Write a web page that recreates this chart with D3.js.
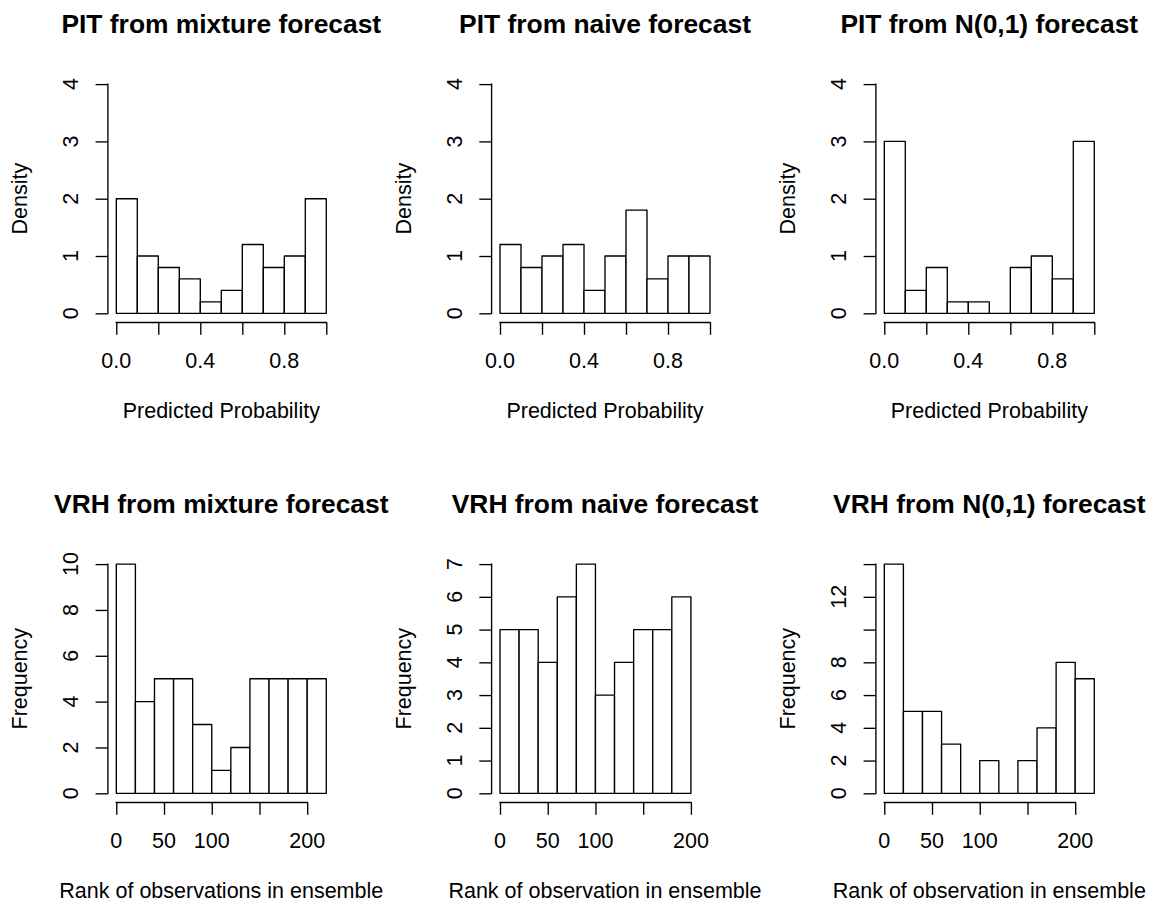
<!DOCTYPE html>
<html>
<head>
<meta charset="utf-8">
<script src="https://cdn.jsdelivr.net/npm/d3@7"></script>
<style>
  html, body { margin: 0; padding: 0; background: #fff; }
  svg text { font-family: "Liberation Sans", Arial, Helvetica, sans-serif; fill: #000; }
</style>
</head>
<body>
<svg id="chart" width="1149" height="903"></svg>
<script>
// Histogram bin edges
const pitBreaks = [0, 0.1, 0.2, 0.3, 0.4, 0.5, 0.6, 0.7, 0.8, 0.9, 1.0];
const vrhBreaksWide = [0, 20, 40, 60, 80, 100, 120, 140, 160, 180, 200, 220];
const vrhBreaksNarrow = [0, 20, 40, 60, 80, 100, 120, 140, 160, 180, 200];

// PIT densities per bin
const pitMixture = [2.0, 1.0, 0.8, 0.6, 0.2, 0.4, 1.2, 0.8, 1.0, 2.0];
const pitNaive   = [1.2, 0.8, 1.0, 1.2, 0.4, 1.0, 1.8, 0.6, 1.0, 1.0];
const pitNormal  = [3.0, 0.4, 0.8, 0.2, 0.2, 0.0, 0.8, 1.0, 0.6, 3.0];

// Verification rank histogram counts per bin
const vrhMixture = [10, 4, 5, 5, 3, 1, 2, 5, 5, 5, 5];
const vrhNaive   = [5, 5, 4, 6, 7, 3, 4, 5, 5, 6];
const vrhNormal  = [14, 5, 5, 3, 0, 2, 0, 2, 4, 8, 7];

// Axis ticks and the labels printed at them
const pitXTicks = [0, 0.2, 0.4, 0.6, 0.8, 1.0];
const pitXLabels = ["0.0", "", "0.4", "", "0.8", ""];
const pitYTicks = [0, 1, 2, 3, 4];
const pitYLabels = ["0", "1", "2", "3", "4"];
const vrhXTicks = [0, 50, 100, 150, 200];
const vrhXLabels = ["0", "50", "100", "", "200"];
const vrhMixYTicks = [0, 2, 4, 6, 8, 10];
const vrhMixYLabels = ["0", "2", "4", "6", "8", "10"];
const vrhNaiveYTicks = [0, 1, 2, 3, 4, 5, 6, 7];
const vrhNaiveYLabels = ["0", "1", "2", "3", "4", "5", "6", "7"];
const vrhNormYTicks = [0, 2, 4, 6, 8, 10, 12, 14];
const vrhNormYLabels = ["0", "2", "4", "6", "8", "", "12", ""];

// Titles and axis titles
const titles = [
  "PIT from mixture forecast", "PIT from naive forecast", "PIT from N(0,1) forecast",
  "VRH from mixture forecast", "VRH from naive forecast", "VRH from N(0,1) forecast"
];
const xTitles = [
  "Predicted Probability", "Predicted Probability", "Predicted Probability",
  "Rank of observations in ensemble", "Rank of observation in ensemble", "Rank of observation in ensemble"
];
const yTitles = ["Density", "Density", "Density", "Frequency", "Frequency", "Frequency"];

const panels = [
  { breaks: pitBreaks, values: pitMixture, xDomain: [0, 1], yMax: 4, xTicks: pitXTicks, xLabels: pitXLabels, yTicks: pitYTicks, yLabels: pitYLabels },
  { breaks: pitBreaks, values: pitNaive, xDomain: [0, 1], yMax: 4, xTicks: pitXTicks, xLabels: pitXLabels, yTicks: pitYTicks, yLabels: pitYLabels },
  { breaks: pitBreaks, values: pitNormal, xDomain: [0, 1], yMax: 4, xTicks: pitXTicks, xLabels: pitXLabels, yTicks: pitYTicks, yLabels: pitYLabels },
  { breaks: vrhBreaksWide, values: vrhMixture, xDomain: [0, 220], yMax: 10, xTicks: vrhXTicks, xLabels: vrhXLabels, yTicks: vrhMixYTicks, yLabels: vrhMixYLabels },
  { breaks: vrhBreaksNarrow, values: vrhNaive, xDomain: [0, 220], yMax: 7, xTicks: vrhXTicks, xLabels: vrhXLabels, yTicks: vrhNaiveYTicks, yLabels: vrhNaiveYLabels },
  { breaks: vrhBreaksWide, values: vrhNormal, xDomain: [0, 220], yMax: 14, xTicks: vrhXTicks, xLabels: vrhXLabels, yTicks: vrhNormYTicks, yLabels: vrhNormYLabels }
];

// Layout of the 2x3 grid (data-range origins in pixels)
const colX0 = [116.3, 500.0, 884.3];
const rowY0 = [313.3, 793.3];
const dataW = 210;
const dataH = 229.2;
const padX = dataW * 0.04;
const padY = dataH * 0.04;
const tickLen = 12.3;
const lw = 1.35;
const axisFont = 21.5;
const titleFont = 26.4;

const svg = d3.select("#chart");

panels.forEach((p, i) => {
  const col = i % 3, row = Math.floor(i / 3);
  const x0 = colX0[col], y0 = rowY0[row];
  const x = d3.scaleLinear().domain(p.xDomain).range([x0, x0 + dataW]);
  const y = d3.scaleLinear().domain([0, p.yMax]).range([y0, y0 - dataH]);

  const left = x0 - padX, right = x0 + dataW + padX;
  const top = y0 - dataH - padY, bottom = y0 + padY;
  const cx = (left + right) / 2, cy = (top + bottom) / 2;

  const g = svg.append("g");

  // Bars as closed outlines, so empty bins still show along the baseline
  const bins = p.values.map((v, k) => ({ x0: p.breaks[k], x1: p.breaks[k + 1], v }));
  g.selectAll("path.bar").data(bins).join("path")
    .attr("class", "bar")
    .attr("d", d => {
      const a = x(d.x0), b = x(d.x1), t = y(d.v), z = y(0);
      return `M${a},${z}L${a},${t}L${b},${t}L${b},${z}Z`;
    })
    .attr("fill", "#fff")
    .attr("stroke", "#000")
    .attr("stroke-width", lw)
    .attr("stroke-linejoin", "round");

  // X axis (line spans first to last tick)
  const xa = d3.axisBottom(x).tickValues(p.xTicks).tickSize(tickLen).tickSizeOuter(0).tickFormat("");
  const gx = g.append("g").attr("transform", `translate(0,${bottom})`).call(xa);
  gx.select(".domain").remove();
  gx.selectAll(".tick line").attr("stroke", "#000").attr("stroke-width", lw);
  gx.append("line")
    .attr("x1", x(p.xTicks[0])).attr("x2", x(p.xTicks[p.xTicks.length - 1]))
    .attr("stroke", "#000").attr("stroke-width", lw).attr("stroke-linecap", "square");
  gx.selectAll(".tick text").remove();
  g.selectAll("text.xl").data(p.xTicks.map((t, k) => ({ t, s: p.xLabels[k] })).filter(d => d.s))
    .join("text").attr("class", "xl")
    .attr("x", d => x(d.t)).attr("y", bottom + 45.2)
    .attr("text-anchor", "middle").attr("font-size", axisFont)
    .text(d => d.s);

  // Y axis
  const ya = d3.axisLeft(y).tickValues(p.yTicks).tickSize(tickLen).tickSizeOuter(0).tickFormat("");
  const gy = g.append("g").attr("transform", `translate(${left},0)`).call(ya);
  gy.select(".domain").remove();
  gy.selectAll(".tick line").attr("stroke", "#000").attr("stroke-width", lw);
  gy.selectAll(".tick text").remove();
  gy.append("line")
    .attr("y1", y(p.yTicks[0])).attr("y2", y(p.yTicks[p.yTicks.length - 1]))
    .attr("stroke", "#000").attr("stroke-width", lw).attr("stroke-linecap", "square");
  g.selectAll("text.yl").data(p.yTicks.map((t, k) => ({ t, s: p.yLabels[k] })).filter(d => d.s))
    .join("text").attr("class", "yl")
    .attr("transform", d => `translate(${left - 29.7},${y(d.t)}) rotate(-90)`)
    .attr("text-anchor", "middle").attr("font-size", axisFont)
    .text(d => d.s);

  // Titles
  g.append("text")
    .attr("x", cx).attr("y", y0 - 280)
    .attr("text-anchor", "middle").attr("font-size", titleFont).attr("font-weight", "bold")
    .text(titles[i]);
  g.append("text")
    .attr("x", cx).attr("y", y0 + 105)
    .attr("text-anchor", "middle").attr("font-size", axisFont)
    .text(xTitles[i]);
  g.append("text")
    .attr("transform", `translate(${left - 81},${cy}) rotate(-90)`)
    .attr("text-anchor", "middle").attr("font-size", axisFont)
    .text(yTitles[i]);
});
</script>
</body>
</html>
